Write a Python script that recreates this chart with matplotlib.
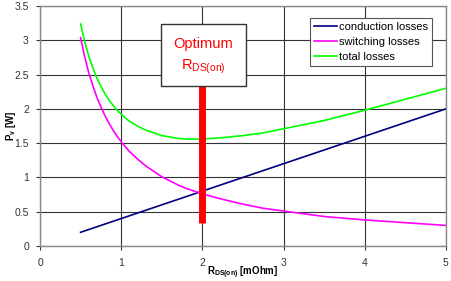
import matplotlib
matplotlib.use("Agg")
import matplotlib.pyplot as plt
from matplotlib.patches import Rectangle

plt.rcParams['font.family'] = ['Liberation Sans', 'DejaVu Sans']

# R_DS(on) in mOhm
r_ds = [0.5, 0.55, 0.6, 0.65, 0.7, 0.75, 0.8, 0.85, 0.9, 0.95, 1.0, 1.1, 1.2, 1.3, 1.4, 1.5,
        1.6, 1.7, 1.8, 1.9, 2.0, 2.25, 2.5, 2.75, 3.0, 3.5, 4.0, 4.5, 5.0]
conduction = [0.20, 0.22, 0.24, 0.26, 0.28, 0.30, 0.32, 0.34, 0.36, 0.38, 0.40, 0.44, 0.48, 0.52, 0.56, 0.60,
              0.64, 0.68, 0.72, 0.76, 0.80, 0.90, 1.00, 1.10, 1.20, 1.40, 1.60, 1.80, 2.00]
switching = [3.04, 2.76, 2.53, 2.34, 2.17, 2.03, 1.90, 1.79, 1.69, 1.60, 1.52, 1.38, 1.27, 1.17, 1.09, 1.01,
             0.95, 0.89, 0.84, 0.80, 0.76, 0.68, 0.61, 0.55, 0.51, 0.43, 0.38, 0.34, 0.30]
total = [3.24, 2.98, 2.77, 2.60, 2.45, 2.33, 2.22, 2.13, 2.05, 1.98, 1.92, 1.82, 1.75, 1.69, 1.65, 1.61,
         1.59, 1.57, 1.56, 1.56, 1.56, 1.58, 1.61, 1.65, 1.71, 1.83, 1.98, 2.14, 2.30]

opt_x = 2.0
opt_bottom = 0.33
opt_top = 2.4

fig = plt.figure(figsize=(4.51, 2.81), dpi=100)
ax = fig.add_axes([0.0887, 0.1246, 0.900, 0.854])

ax.plot(r_ds, conduction, color='#000080', lw=1.2, label='conduction losses')
ax.plot(r_ds, switching, color='#ff00ff', lw=1.2, label='switching losses')
ax.plot(r_ds, total, color='#00ff00', lw=1.2, label='total losses')

# optimum marker
ax.plot([opt_x, opt_x], [opt_bottom, opt_top], color='red', lw=5, solid_capstyle='butt', zorder=4)
ax.add_patch(Rectangle((1.49, 2.33), 1.05, 0.91, facecolor='white', edgecolor='#333333', lw=1, zorder=5))
ax.text(2.015, 2.95, 'Optimum', color='red', ha='center', va='center', fontsize=10.5, zorder=6)
ax.text(2.015, 2.62, r'R$_{\mathregular{DS(on)}}$', color='red', ha='center', va='center', fontsize=10.5, zorder=6)

ax.set_xlim(0, 5)
ax.set_ylim(0, 3.5)
ax.set_xticks([0, 1, 2, 3, 4, 5])
ax.set_yticks([0, 0.5, 1, 1.5, 2, 2.5, 3, 3.5])
ax.set_yticklabels(['0', '0.5', '1', '1.5', '2', '2.5', '3', '3.5'])
ax.grid(True, color='#333333', lw=0.8)
ax.set_axisbelow(True)
ax.tick_params(labelsize=7.5, length=3, width=0.8, color='#333333', labelcolor='#333333')
ax.tick_params(axis='x', pad=6)
ax.tick_params(axis='y', pad=5)
for s in ax.spines.values():
    s.set_color('#888888')
    s.set_linewidth(1)

ax.set_xlabel(r'R$_{\mathregular{DS(on)}}$ [mOhm]', fontsize=7, fontweight='bold')
ax.set_ylabel(r'P$_{\mathregular{v}}$ [W]', fontsize=7, fontweight='bold')
ax.xaxis.set_label_coords(0.5, -0.078)
ax.yaxis.set_label_coords(-0.055, 0.5)

leg = ax.legend(loc='upper right', bbox_to_anchor=(0.965, 0.95), fontsize=8, frameon=True,
                fancybox=False, handlelength=2.0, handletextpad=0.2, borderpad=0.35,
                labelspacing=0.45, borderaxespad=0)
leg.get_frame().set_edgecolor('#555555')
leg.get_frame().set_linewidth(0.8)
leg.get_frame().set_alpha(1)

fig.savefig('out.png', dpi=100)
